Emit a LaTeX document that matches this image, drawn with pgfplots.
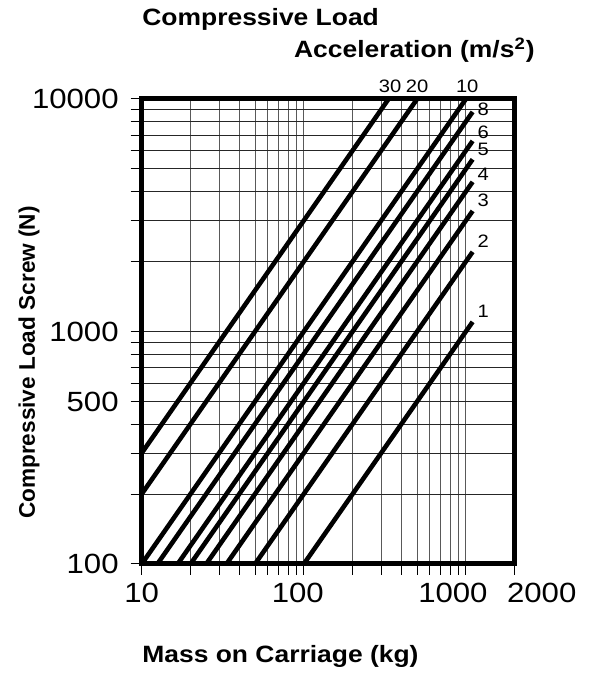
\documentclass[border=0pt]{standalone}
\usepackage{fontspec}
\setmainfont{Liberation Sans}[FakeStretch=1.12]
\newfontfamily\ylabfont{Liberation Sans}
\usepackage{pgfplots}
\pgfplotsset{compat=1.18}
\pgfplotsset{lin/.style={black, solid, line width=2.3pt, no markers}}

\begin{document}
\begin{tikzpicture}
\path[use as bounding box] (-70.85pt,-54.5pt) rectangle (225.15pt,282pt);
\begin{axis}[
  at={(0pt,0pt)}, anchor=south west,
  scale only axis, width=186.5pt, height=232.5pt,
  xmode=log, ymode=log,
  xmin=10, xmax=2000, ymin=100, ymax=10000,
  xtick={10,100,1000,2000},
  xticklabels={10,\makebox[0pt]{\hspace*{-6pt}100},\makebox[0pt]{\hspace*{-13pt}1000},\makebox[0pt]{\hspace*{27pt}2000}},
  minor xtick={20,30,40,50,60,70,80,90,200,300,400,500,600,700,800,900},
  ytick={100,500,1000,10000},
  yticklabels={100,500,1000,10000},
  minor ytick={200,300,400,600,700,800,900,2000,3000,4000,5000,6000,7000,8000,9000},
  tick pos=left, tick align=outside,
  major tick length=5.5pt, minor tick length=5.5pt,
  every tick/.style={black, line width=0.5pt},
  tick label style={font=\fontsize{13.9}{14}\selectfont},
  xticklabel style={anchor=north, inner sep=0pt, yshift=-4pt},
  yticklabel style={anchor=east, inner sep=0pt, xshift=-5.85pt},
  grid=both,
  major x grid style={black!65, line width=0.5pt},
  minor x grid style={black!65, line width=0.5pt},
  major y grid style={black!85, line width=0.5pt},
  minor y grid style={black!85, line width=0.5pt},
  axis line style={black, line width=2.5pt},
  clip=false,
]
% F = m * a, one line per acceleration
\addplot[lin] coordinates {(100,100) (1100,1100)};     % 1
\addplot[lin] coordinates {(50,100) (1100,2200)};      % 2
\addplot[lin] coordinates {(33.33,100) (1100,3300)};   % 3
\addplot[lin] coordinates {(25,100) (1100,4400)};      % 4
\addplot[lin] coordinates {(20,100) (1100,5500)};      % 5
\addplot[lin] coordinates {(16.67,100) (1100,6600)};   % 6
\addplot[lin] coordinates {(12.5,100) (1100,8800)};    % 8
\addplot[lin] coordinates {(10,100) (1000,10000)};     % 10
\addplot[lin] coordinates {(10,200) (500,10000)};      % 20
\addplot[lin] coordinates {(10,300) (333.3,10000)};    % 30

\begin{scope}[every node/.style={font=\fontsize{9}{10}\selectfont, inner sep=0pt}]
\node[anchor=base] at (axis cs:341,10715) {30};
\node[anchor=base] at (axis cs:500.6,10715) {20};
\node[anchor=base] at (axis cs:1019,10715) {10};
\node[anchor=west] at (axis cs:1174,9016) {8};
\node[anchor=west] at (axis cs:1174,7170) {6};
\node[anchor=west] at (axis cs:1174,6080) {5};
\node[anchor=west] at (axis cs:1174,4757) {4};
\node[anchor=west] at (axis cs:1174,3678) {3};
\node[anchor=west] at (axis cs:1174,2439) {2};
\node[anchor=west] at (axis cs:1174,1219) {1};
\end{scope}
\end{axis}

\node[anchor=base west, inner sep=0pt, font=\fontsize{11.8}{13}\selectfont\bfseries] at (0.15pt,269pt) {Compressive Load};
\node[anchor=base east, inner sep=0pt, font=\fontsize{11.8}{13}\selectfont\bfseries] at (196.65pt,253pt) {Acceleration (m/s\textsuperscript{2})};
\node[anchor=base west, inner sep=0pt, font=\fontsize{11.8}{13}\selectfont\bfseries] at (0.15pt,-49pt) {Mass on Carriage (kg)};
\node[anchor=base, rotate=90, inner sep=0pt, font=\ylabfont\fontsize{11.3}{13}\selectfont\bfseries] at (-53.35pt,100.75pt) {Compressive Load Screw (N)};
\end{tikzpicture}
\end{document}
